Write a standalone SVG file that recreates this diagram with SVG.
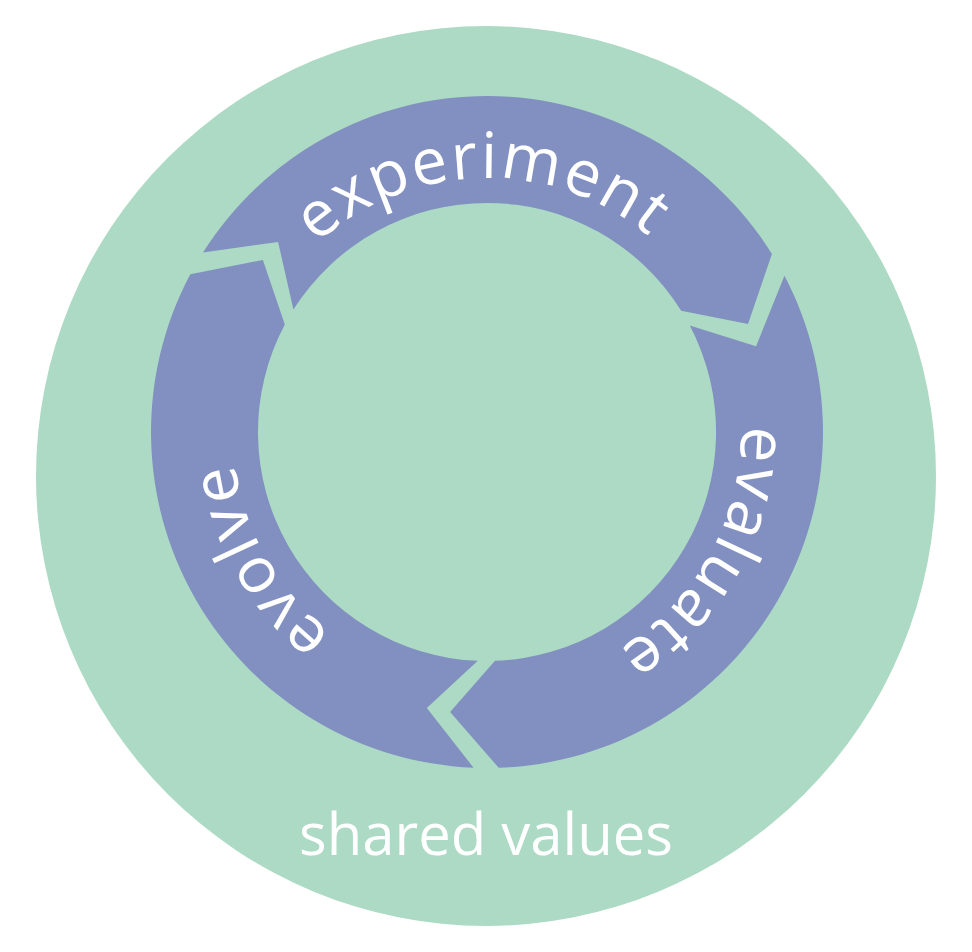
<svg xmlns="http://www.w3.org/2000/svg" xmlns:xlink="http://www.w3.org/1999/xlink" width="972" height="952" viewBox="0 0 972 952">
  <style>
    .field { fill: #acdac4; }
    .segment { fill: #8190c0; }
    .label { fill: #ffffff; font-family: "Open Sans", "Liberation Sans", sans-serif; font-weight: 400; }
    .ring-label { font-size: 64px; letter-spacing: 2px; }
    .base-label { font-size: 58px; }
  </style>
  <defs>
    <!-- one arrow segment of the cycle: notched tail on the left, pointed head on the right -->
    <path id="cycle-segment" d="M 203.0 252.5 A 336 336 0 0 1 771.95 253.95 L 748.0 323.9 L 681.2 310.65 A 229 229 0 0 0 293.4 309.6 L 278.1 241.9 Z"/>
    <!-- clockwise baseline circle for the curved labels, starting at the left point -->
    <path id="label-track" d="M 233 432 A 254 254 0 0 1 741 432 A 254 254 0 0 1 233 432"/>
  </defs>

  <g id="shared-values">
    <circle class="field" cx="486" cy="476" r="450"/>
    <text class="label base-label" x="486" y="855" text-anchor="middle">shared values</text>
  </g>

  <g id="experiment">
    <use class="segment" xlink:href="#cycle-segment"/>
    <text class="label ring-label" text-anchor="middle"><textPath xlink:href="#label-track" startOffset="394">experiment</textPath></text>
  </g>

  <g id="evaluate">
    <use class="segment" xlink:href="#cycle-segment" transform="rotate(120 487 432)"/>
    <text class="label ring-label" text-anchor="middle"><textPath xlink:href="#label-track" startOffset="926">evaluate</textPath></text>
  </g>

  <g id="evolve">
    <use class="segment" xlink:href="#cycle-segment" transform="rotate(240 487 432)"/>
    <text class="label ring-label" text-anchor="middle"><textPath xlink:href="#label-track" startOffset="1464">evolve</textPath></text>
  </g>
</svg>
